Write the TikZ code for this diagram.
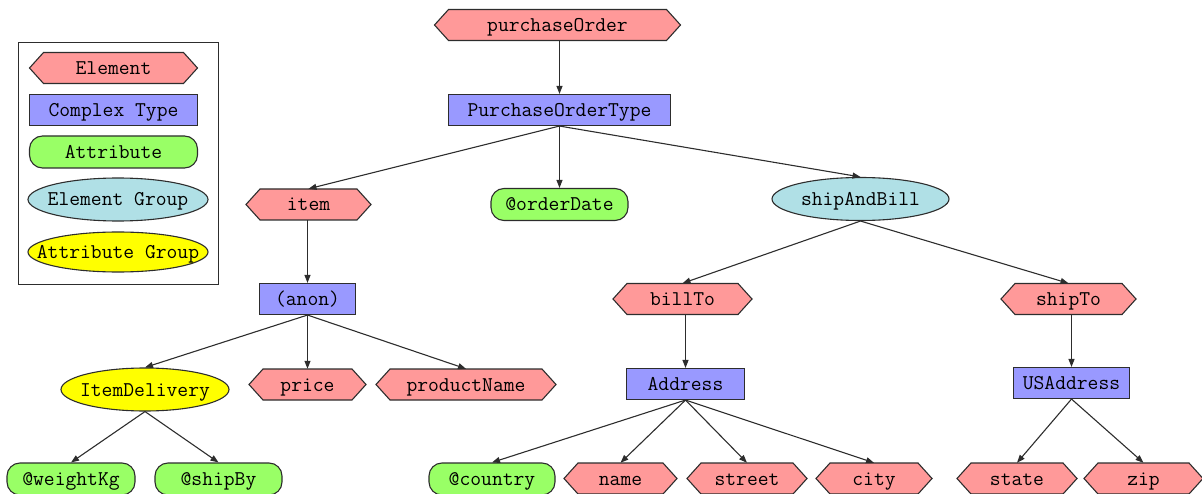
\documentclass[tikz,border=0pt]{standalone}
\usetikzlibrary{arrows.meta,shapes.geometric}
\definecolor{elcol}{RGB}{255,153,153}
\definecolor{ctcol}{RGB}{153,153,255}
\definecolor{atcol}{RGB}{153,255,102}
\definecolor{egcol}{RGB}{176,224,230}
\definecolor{agcol}{RGB}{255,255,0}
\definecolor{linecol}{RGB}{45,45,45}
\tikzset{
 lbl/.style={font=\fontsize{21}{25}\selectfont\ttfamily, inner sep=0pt, text height=13pt, text depth=0pt},
 box/.style={lbl, draw=linecol, line width=1.1pt},
 ctype/.style={box, rectangle, fill=ctcol, minimum height=31pt},
 attr/.style={box, rectangle, rounded corners=13pt, fill=atcol, minimum height=32pt},
 egroup/.style={box, ellipse, fill=egcol, minimum height=43pt},
 agroup/.style={box, ellipse, fill=agcol, minimum height=42pt},
 hexbody/.style={draw=linecol, line width=1.1pt, fill=elcol, line join=miter},
 hextext/.style={lbl, rectangle, minimum height=31pt},
 edge/.style={draw=linecol, line width=1.1pt, -{Triangle[length=8pt,width=6pt]}},
 legendframe/.style={draw=linecol, line width=1pt, inner sep=0pt},
}
% name, x, y, width, text
\newcommand\hexnode[5]{%
 \path[hexbody] ({#2-#4/2},#3) -- ({#2-#4/2+14},{#3-15.5}) -- ({#2+#4/2-14},{#3-15.5}) -- ({#2+#4/2},#3) -- ({#2+#4/2-14},{#3+15.5}) -- ({#2-#4/2+14},{#3+15.5}) -- cycle;
 \node[hextext, minimum width=#4pt] (#1) at (#2,#3) {#5};}
\begin{document}
\begin{tikzpicture}[x=1pt,y=-1pt]
\useasboundingbox (0,0) rectangle (1202,494);
% legend
\node[legendframe, minimum width=200pt, minimum height=242pt] (legend) at (118.5,163.5) {};
\hexnode{lel}{113.5}{68}{168}{Element}
\node[ctype, minimum width=168pt] (lct) at (113.5,110) {Complex Type};
\node[attr, minimum width=168pt] (lat) at (113.5,152) {Attribute};
\node[egroup, minimum width=180pt] (leg) at (118,199.5) {\makebox[0pt]{Element Group}};
\node[agroup, minimum width=180pt, minimum height=40pt] (lag) at (118,252) {\makebox[0pt]{Attribute Group}};
% tree
\hexnode{po}{557.5}{25}{246}{purchaseOrder}
\node[ctype, minimum width=222pt] (pot) at (559.5,110) {PurchaseOrderType};
\hexnode{item}{308.5}{204.5}{125}{item}
\node[attr, minimum width=137pt] (od) at (559.5,204.5) {@orderDate};
\node[egroup, minimum width=177pt] (sab) at (860.5,199) {\makebox[0pt]{shipAndBill}};
\node[ctype, minimum width=96pt] (anon) at (307.5,299) {(anon)};
\hexnode{bill}{682.5}{299}{139}{billTo}
\hexnode{ship}{1068.5}{299}{135}{shipTo}
\node[agroup, minimum width=168pt, minimum height=43pt] (idl) at (145,389.5) {\makebox[0pt]{ItemDelivery}};
\hexnode{price}{307.5}{384.5}{117}{price}
\hexnode{pn}{466}{384.5}{180}{productName}
\node[ctype, minimum width=118pt] (addr) at (685.5,384) {Address};
\node[ctype, minimum width=116pt] (usa) at (1071.5,383) {USAddress};
\node[attr, minimum width=128pt] (wkg) at (71,479) {@weightKg};
\node[attr, minimum width=127pt] (sby) at (218.5,479) {@shipBy};
\node[attr, minimum width=126pt] (ctry) at (492,479) {@country};
\hexnode{name}{620.5}{478.5}{113}{name}
\hexnode{street}{747}{478.5}{120}{street}
\hexnode{city}{874}{478.5}{116}{city}
\hexnode{state}{1017}{478.5}{120}{state}
\hexnode{zip}{1143.5}{478.5}{119}{zip}
% edges
\draw[edge] (pot.north |- po.south) -- (pot.north);
\draw[edge] (pot.south) -- (item.north);
\draw[edge] (pot.south) -- (od.north);
\draw[edge] (pot.south) -- (sab.north);
\draw[edge] (anon.north |- item.south) -- (anon.north);
\draw[edge] (anon.south) -- (idl.north);
\draw[edge] (anon.south) -- (price.north);
\draw[edge] (anon.south) -- (pn.north);
\draw[edge] (sab.south) -- (bill.north);
\draw[edge] (sab.south) -- (ship.north);
\draw[edge] (addr.north |- bill.south) -- (addr.north);
\draw[edge] (usa.north |- ship.south) -- (usa.north);
\draw[edge] (idl.south) -- (wkg.north);
\draw[edge] (idl.south) -- (sby.north);
\draw[edge] (addr.south) -- (ctry.north);
\draw[edge] (addr.south) -- (name.north);
\draw[edge] (addr.south) -- (street.north);
\draw[edge] (addr.south) -- (city.north);
\draw[edge] (usa.south) -- (state.north);
\draw[edge] (usa.south) -- (zip.north);
\end{tikzpicture}
\end{document}
